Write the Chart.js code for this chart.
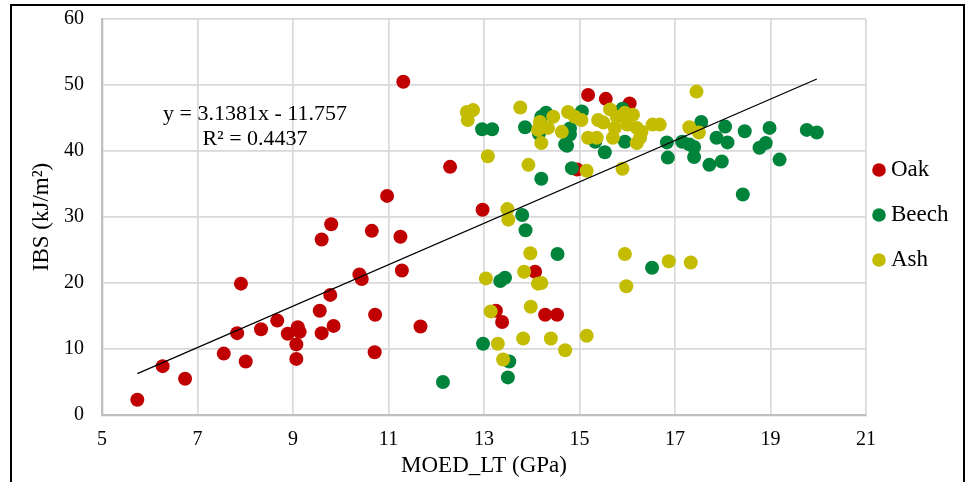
<!DOCTYPE html>
<html>
<head>
<meta charset="utf-8">
<script src="https://cdn.jsdelivr.net/npm/chart.js@4.4.1/dist/chart.umd.min.js"></script>
<style>
  html, body { margin: 0; padding: 0; background: #fff; }
  #wrap { position: relative; width: 966px; height: 482px; overflow: hidden; }
  #frame { position: absolute; left: 10px; top: 4px; width: 955px; height: 520px; border: 2px solid #000; border-bottom: none; box-sizing: border-box; }
  #chart { position: absolute; left: 0; top: 0; }
</style>
</head>
<body>
<div id="wrap">
  <canvas id="chart" width="966" height="482"></canvas>
  <div id="frame"></div>
</div>
<script>
// values
const oakX = [5.74, 6.27, 6.74, 7.55, 7.83, 7.91, 8.01, 8.33, 8.67, 8.89, 9.07, 9.07, 9.10, 9.14,
  9.56, 9.60, 9.60, 9.80, 9.78, 9.85, 10.39, 10.44, 10.65, 10.72, 10.71, 10.97, 11.25, 11.28,
  11.31, 11.67, 12.29, 12.97, 13.25, 13.38, 14.07, 14.28, 14.53, 14.95, 15.18, 15.55, 16.05];
const oakY = [2.3, 7.4, 5.5, 9.3, 12.4, 19.9, 8.1, 13.0, 14.3, 12.3, 10.7, 8.5, 13.3, 12.6,
  15.8, 12.4, 26.6, 28.9, 18.2, 13.5, 21.3, 20.6, 27.9, 15.2, 9.5, 33.2, 27.0, 21.9,
  50.5, 13.4, 37.6, 31.1, 15.8, 14.1, 21.7, 15.2, 15.2, 37.2, 48.5, 47.9, 47.2];

const beechX = [12.14, 12.98, 13.50, 13.53, 13.34, 13.44, 14.54, 13.87, 13.80, 14.20, 12.96, 13.17,
  13.86, 14.84, 14.74, 14.30, 14.20, 14.80, 14.80, 15.05, 15.53, 15.95, 15.90, 15.33, 16.83, 16.85,
  17.15, 17.40, 17.55, 17.72, 17.98, 18.05, 18.10, 17.87, 17.30, 17.40, 18.46, 18.42, 18.77, 18.90,
  18.98, 19.19, 19.76, 19.97, 16.52, 14.15, 14.70];
const beechY = [5.0, 10.8, 5.7, 8.1, 20.3, 20.8, 24.4, 28.0, 30.3, 35.8, 43.3, 43.3,
  43.6, 37.4, 40.8, 45.8, 45.2, 42.5, 43.4, 46.0, 39.8, 41.4, 46.4, 41.4, 41.3, 39.0,
  41.4, 39.1, 44.4, 37.9, 38.4, 43.7, 41.3, 42.0, 41.0, 40.6, 43.0, 33.4, 40.5, 41.2,
  43.5, 38.7, 43.2, 42.8, 22.3, 42.6, 41.0];

const ashX = [12.64, 12.77, 12.66, 13.08, 13.76, 13.93, 13.49, 13.51, 13.97, 13.04, 13.84, 14.13,
  14.20, 13.14, 13.98, 13.29, 13.82, 14.40, 14.70, 13.40, 15.95, 15.98, 16.87, 17.33, 15.15, 17.45,
  17.30, 17.50, 15.90, 15.15, 16.53, 16.68, 14.17, 14.45, 14.13, 14.34, 14.20, 14.63, 14.76, 14.90,
  15.04, 15.18, 15.36, 15.39, 15.50, 15.64, 15.74, 15.78, 15.70, 15.95, 16.00, 16.12, 16.20, 16.27,
  16.20, 16.30];
const ashY = [45.9, 46.2, 44.7, 39.2, 46.6, 37.9, 31.2, 29.6, 24.5, 20.7, 21.7, 19.9,
  20.0, 15.7, 16.4, 10.8, 11.6, 11.6, 9.8, 8.4, 24.4, 19.5, 23.3, 23.1, 12.0, 49.0,
  43.6, 42.8, 37.3, 37.0, 44.0, 44.0, 44.4, 45.2, 43.2, 43.5, 41.2, 42.9, 45.9, 45.2,
  44.7, 42.0, 42.0, 44.7, 44.3, 46.3, 43.5, 45.2, 42.0, 45.8, 44.0, 45.5, 43.5, 42.0,
  41.2, 42.9];

const seriesNames = ["Oak", "Beech", "Ash"];
const seriesColors = ["#C00000", "#00843C", "#C4BC00"];

// linear trendline printed on the chart
const trendSlope = 3.1381;
const trendIntercept = -11.757;
const trendLabel = "y = 3.1381x - 11.757";
const r2Label = "R\u00B2 = 0.4437";

const xTicks = { min: 5, max: 21, step: 2 };
const yTicks = { min: 0, max: 60, step: 10 };

const SERIF = '"Liberation Serif", "Times New Roman", serif';

function toPoints(xs, ys) {
  return xs.map((x, i) => ({ x: x, y: ys[i] }));
}

const allX = oakX.concat(beechX, ashX);
const xLo = Math.min(...allX);
const xHi = Math.max(...allX);

const scatterSets = [[oakX, oakY], [beechX, beechY], [ashX, ashY]].map((s, i) => ({
  type: "scatter",
  label: seriesNames[i],
  data: toPoints(s[0], s[1]),
  backgroundColor: seriesColors[i],
  borderColor: seriesColors[i],
  borderWidth: 0,
  pointRadius: 7,
  pointHoverRadius: 7,
  order: 3 - i
}));

const trendSet = {
  type: "line",
  label: "trend",
  data: [
    { x: xLo, y: trendSlope * xLo + trendIntercept },
    { x: xHi, y: trendSlope * xHi + trendIntercept }
  ],
  borderColor: "#000",
  borderWidth: 1.3,
  pointRadius: 0,
  fill: false,
  order: 0
};

// equation text and right-hand legend
const overlay = {
  id: "overlay",
  afterDraw(chart) {
    const ctx = chart.ctx;
    ctx.save();
    ctx.fillStyle = "#000";
    ctx.textBaseline = "middle";
    ctx.font = "22px " + SERIF;
    ctx.textAlign = "center";
    ctx.fillText(trendLabel, 255, 114);
    ctx.fillText(r2Label, 255, 139);

    ctx.textAlign = "left";
    ctx.font = "23px " + SERIF;
    seriesNames.forEach((name, i) => {
      const y = 170 + i * 45;
      ctx.beginPath();
      ctx.arc(879, y, 6.8, 0, Math.PI * 2);
      ctx.fillStyle = seriesColors[i];
      ctx.fill();
      ctx.fillStyle = "#000";
      ctx.fillText(name, 891, y);
    });
    ctx.restore();
  }
};

new Chart(document.getElementById("chart"), {
  type: "scatter",
  data: { datasets: [trendSet].concat(scatterSets) },
  options: {
    responsive: false,
    animation: false,
    layout: { padding: { top: 19, right: 100, left: 0, bottom: 0 } },
    plugins: {
      legend: { display: false },
      tooltip: { enabled: false }
    },
    scales: {
      x: {
        type: "linear",
        min: xTicks.min,
        max: xTicks.max,
        ticks: { stepSize: xTicks.step, padding: 13, color: "#000", font: { family: SERIF, size: 20 } },
        grid: { color: "#D9D9D9", lineWidth: 1.7, drawTicks: false },
        border: { color: "#BFBFBF", width: 2.3 },
        title: { display: true, text: "MOED_LT (GPa)", color: "#000", font: { family: SERIF, size: 23 }, padding: { top: 0, bottom: 2 } },
        afterFit: s => { s.height = 67; }
      },
      y: {
        min: yTicks.min,
        max: yTicks.max,
        ticks: { stepSize: yTicks.step, padding: 18, color: "#000", font: { family: SERIF, size: 20 } },
        grid: { color: "#D9D9D9", lineWidth: 1.7, drawTicks: false },
        border: { color: "#BFBFBF", width: 2.3 },
        title: { display: true, text: "IBS (kJ/m\u00B2)", color: "#000", font: { family: SERIF, size: 23 }, padding: { top: 28, bottom: 0 } },
        afterFit: s => { s.width = 102; s.paddingTop = 0; s.paddingBottom = 0; }
      }
    }
  },
  plugins: [overlay]
});
</script>
</body>
</html>
